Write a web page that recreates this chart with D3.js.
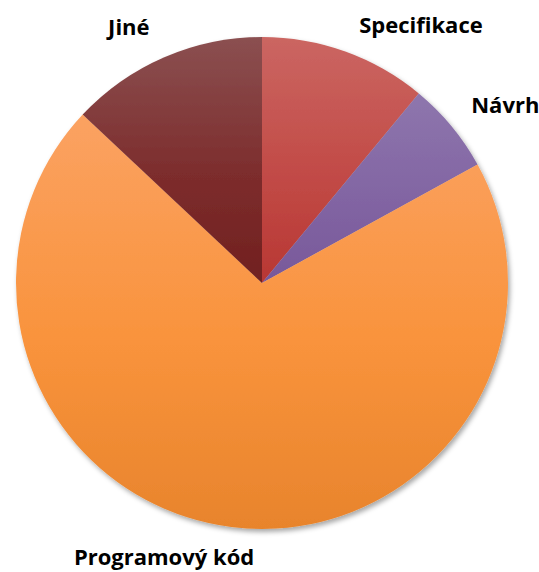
<!DOCTYPE html>
<html>
<head>
<meta charset="utf-8">
<script src="https://cdn.jsdelivr.net/npm/d3@7/dist/d3.min.js"></script>
<style>
  body { margin: 0; background: #fff; }
  text { font-family: "Open Sans", Lato, sans-serif; font-weight: bold; }
</style>
</head>
<body>
<div id="chart"></div>
<script>
// data
const categories = ['Specifikace', 'Návrh', 'Programový kód', 'Jiné'];
const shares = [11, 6, 70, 13];
const topColors = ['#cb6662', '#8e76ad', '#fba262', '#8b5051'];
const midColors = ['#c24b47', '#8265a3', '#f9933c', '#7d2d2d'];
const bottomColors = ['#b83733', '#78589a', '#e8842c', '#71201f'];

const width = 539;
const height = 572;
const cx = 262, cy = 283, radius = 246;

const svg = d3.select('#chart')
    .append('svg')
    .attr('width', width)
    .attr('height', height);

const defs = svg.append('defs');

// gradient per slice (top light -> bottom dark)
categories.forEach((c, i) => {
    const grad = defs.append('linearGradient')
        .attr('id', 'grad' + i)
        .attr('x1', 0).attr('y1', 0)
        .attr('x2', 0).attr('y2', 1);
    grad.append('stop').attr('offset', '0%').attr('stop-color', topColors[i]);
    grad.append('stop').attr('offset', '55%').attr('stop-color', midColors[i]);
    grad.append('stop').attr('offset', '100%').attr('stop-color', bottomColors[i]);
});

const shadow = defs.append('filter')
    .attr('id', 'shadow')
    .attr('x', '-10%').attr('y', '-10%')
    .attr('width', '120%').attr('height', '120%');
shadow.append('feDropShadow')
    .attr('dx', 2).attr('dy', 3)
    .attr('stdDeviation', 2.5)
    .attr('flood-color', '#000')
    .attr('flood-opacity', 0.35);

const pie = d3.pie().sort(null).value(d => d);
const arcs = pie(shares);
const arc = d3.arc().innerRadius(0).outerRadius(radius);

const g = svg.append('g')
    .attr('transform', `translate(${cx},${cy})`);

g.append('g')
    .attr('filter', 'url(#shadow)')
    .selectAll('path')
    .data(arcs)
    .enter()
    .append('path')
    .attr('d', arc)
    .attr('fill', (d, i) => `url(#grad${i})`);

// labels: point on mid angle, then nudged like Excel's outside-end placement
const labelArc = d3.arc().innerRadius(295).outerRadius(295);
const nudge = [[59, 20], [16, 10], [-61, -18], [-16, 15]];

g.selectAll('text')
    .data(arcs)
    .enter()
    .append('text')
    .attr('transform', (d, i) => {
        const [x, y] = labelArc.centroid(d);
        return `translate(${x + nudge[i][0]},${y + nudge[i][1]})`;
    })
    .attr('text-anchor', 'middle')
    .attr('dy', '0.35em')
    .attr('font-size', 22)
    .attr('fill', '#000')
    .text((d, i) => categories[i]);
</script>
</body>
</html>
